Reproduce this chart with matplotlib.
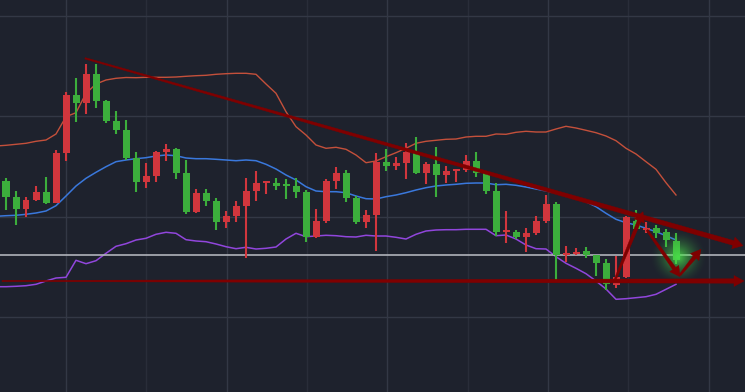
import numpy as np
import matplotlib
matplotlib.use("Agg")
import matplotlib.pyplot as plt
from matplotlib.patches import Polygon
from matplotlib.transforms import IdentityTransform

# Candles (red = up, green = down)
opens = [211, 195.3, 183, 192, 200, 188.7, 239, 297, 289.3, 318, 291.3, 271, 262, 233.7, 210.3, 216.3,
         240, 243.3, 219, 180, 199, 191, 170, 176, 186.3, 201.3, 209, 209, 208, 206, 200, 155.3,
         171, 211, 219, 194.3, 170, 177.3, 230, 226, 229, 240, 219, 228, 217, 221, 222, 231,
         219, 201, 160, 160, 155, 159, 171, 188, 137, 138, 141, 137, 129, 107, 115, 171,
         162, 164, 160, 151]
closes = [195.3, 183.3, 192, 200, 188.7, 239, 297, 289.3, 318, 291.3, 271, 262, 234.3, 210.3, 216, 240,
          243.3, 219.3, 180, 199, 191.3, 170, 176, 186, 201, 209, 211, 206, 206, 200, 155.3, 171,
          211, 219, 194.3, 170, 177.3, 230, 226, 229, 240, 219, 228, 217, 221, 223, 231, 219,
          201, 160, 162, 155, 159, 171, 188, 137, 139, 140, 137, 129, 108, 115, 175, 163,
          164, 159, 152, 132]
highs = [214, 201, 195.3, 206, 215, 242, 300, 314, 328, 328, 292, 281, 272, 240, 229, 241.3,
         248, 244, 232, 203, 203, 194, 181, 191, 214, 221, 211, 214, 213, 214, 202, 183,
         213, 225, 222, 196, 182, 239, 243, 235, 249, 255, 230, 245, 226, 223, 237, 240,
         219, 209, 181, 162, 164, 176, 197, 190, 146, 144, 145, 137, 133, 136, 176, 182,
         170, 167, 163, 159]
lows = [182, 167.3, 175.3, 191, 188, 188.7, 231.3, 270.3, 278, 284.3, 269.3, 258.3, 232, 200.3, 204.3, 210.3,
        231.3, 213.3, 178, 179, 186.3, 162.3, 164.3, 170, 134.3, 191.3, 198, 202.3, 193.3, 194.3, 150.3, 154.3,
        169, 203, 190.3, 168, 164.3, 141.3, 221, 222, 213, 218, 208, 195, 209, 210, 220, 215,
        198, 156, 149, 153, 140, 157, 169, 112, 130, 137, 134, 116, 102, 104, 114, 162,
        159, 154, 145, 128]

# Bollinger bands, first value belongs to the bar before the first candle
band_upper = [246, 246.7, 247.7, 248.7, 250.7, 252, 258, 275.3, 279.3, 298.7, 308, 312, 313.7, 314.5,
              314.3, 314.7, 314.7, 314.7, 315, 315.7, 316.3, 316.7, 317.7, 318.3, 318.7, 318.7, 317.7,
              308, 298.7, 280.3, 265.3, 257, 247, 243.7, 244.7, 242.7, 237, 229.3, 231, 235.3, 239.3,
              243.7, 248.7, 250.7, 251.7, 252.7, 253, 255, 255.7, 255.7, 258, 257.7, 259.7, 260.7,
              260, 260, 263, 265.7, 264, 261.7, 259.3, 256, 251.3, 243.7, 238, 230.3, 222.7, 209.3, 197]
band_mid = [175.7, 176.3, 176.7, 177.7, 179, 181, 186.3, 196, 206, 213.7, 219.7, 225.3, 230.3, 232,
            233.3, 234.3, 236, 237, 236.3, 234, 233.3, 233.3, 232.7, 232, 231.3, 232, 231.3, 227.7,
            223, 217, 212, 205.3, 201, 200.3, 200.3, 199.3, 196, 193.3, 193, 195.3, 197, 199.3,
            202, 204.3, 206, 207, 207.7, 208.7, 209, 209, 207.3, 207.7, 206.7, 205, 203, 201,
            199.3, 197.3, 193.7, 190.3, 185.3, 178.7, 172.7, 169.3, 167, 163.7, 160.3, 156.3, 152]
band_lower = [105.3, 105.3, 105.7, 106.3, 107.7, 111, 114, 114.7, 131.7, 128.3, 131.3, 138.7, 145.7, 148.3,
              152, 153.7, 157.7, 159.7, 158.7, 152.3, 151, 150.3, 148, 145.3, 143.3, 144.7, 143, 143.7,
              145, 153, 158.7, 155.3, 156, 156.7, 156.3, 155.3, 155, 156.7, 156, 156, 154.7, 153,
              157.7, 161, 162, 162.3, 162.3, 162.7, 162.7, 162.7, 156.3, 157, 153, 147, 143.3, 143,
              135.3, 128.7, 123.7, 118.3, 111, 103, 92.7, 93.3, 94.3, 95.3, 97.7, 102.7, 107.7]

# Drawn levels and trendlines (bar index, price)
ref_level = 137
support = [(-0.4, 111), (73.8, 111)]
trend = [(7.9, 333.7), (73.7, 146.3)]
zigzag = [[(60.9, 112), (63.7, 180.3)],
          [(64.1, 162), (67.4, 115.3)],
          [(67.4, 117), (69.5, 142.7)]]
glow_at = (67.2, 135)

UP = '#d1363d'
DOWN = '#3cae3c'
BG = '#1e222d'
ARROW = '#7f0000'

fig = plt.figure(figsize=(7.45, 3.92), dpi=100, facecolor=BG)
ax = fig.add_axes([0, 0, 1, 1])
ax.set_facecolor(BG)
ax.set_xlim(-0.6, 73.9)
ax.set_ylim(0, 392)

# grid
ax.set_xticks(6 + 16.07 * np.arange(5))
ax.set_xticks(14.03 + 16.07 * np.arange(4), minor=True)
ax.set_yticks([75, 175.3, 275.6, 376])
ax.grid(True, which='major', color='#333845', linewidth=1.0)
ax.grid(True, which='minor', axis='x', color='#292d39', linewidth=1.0)
ax.tick_params(which='both', length=0, labelbottom=False, labelleft=False)
for s in ax.spines.values():
    s.set_visible(False)
ax.set_axisbelow(True)

# bands
bx = np.arange(-1, len(opens))
ax.plot(bx, band_upper, color='#c4503b', lw=1.0, zorder=2)
ax.plot(bx, band_mid, color='#3a78dc', lw=1.1, zorder=2)
ax.plot(bx, band_lower, color='#9146dc', lw=1.1, zorder=2)

ax.axhline(ref_level, color='#b0b3ba', lw=1.2, zorder=2)

# candles
x = np.arange(len(opens))
o = np.array(opens)
c = np.array(closes)
cols = [UP if cc >= oo else DOWN for oo, cc in zip(o, c)]
ax.vlines(x, lows, highs, colors=cols, lw=1.5, zorder=3)
h = c - o
h = np.where(np.abs(h) < 1.5, np.sign(h + 1e-9) * 1.5, h)
ax.bar(x, h, bottom=o, width=0.7, color=cols, zorder=3, linewidth=0)

# glow on the last bar
gx, gy = np.meshgrid(np.linspace(-1, 1, 150), np.linspace(-1, 1, 150))
r = np.sqrt(gx ** 2 + gy ** 2)
img = np.zeros((150, 150, 4))
img[..., 0] = 0.30
img[..., 1] = 0.90
img[..., 2] = 0.30
img[..., 3] = 0.85 * np.clip(1 - r, 0, 1) ** 1.8
ax.imshow(img, extent=(glow_at[0] - 2.9, glow_at[0] + 2.9, glow_at[1] - 29, glow_at[1] + 29),
          aspect='auto', zorder=4, interpolation='bilinear')
ax.set_xlim(-0.6, 73.9)
ax.set_ylim(0, 392)


# tapered arrow, widths in pixels
def arrow(p0, p1, w0=1.0, w1=4.6, hl=10, hw=12):
    a = ax.transData.transform(p0)
    b = ax.transData.transform(p1)
    d = b - a
    u = d / np.hypot(*d)
    n = np.array([-u[1], u[0]])
    base = b - u * hl
    pts = [a + n * w0 / 2, base + n * w1 / 2, base + n * hw / 2, b,
           base - n * hw / 2, base - n * w1 / 2, a - n * w0 / 2]
    ax.add_patch(Polygon(pts, closed=True, transform=IdentityTransform(),
                         facecolor=ARROW, edgecolor=ARROW, lw=0.3, zorder=5))


arrow(*support, w0=1.2, w1=4.4, hl=10, hw=11)
arrow(*trend, w0=1.5, w1=4.8, hl=10, hw=12)
for seg in zigzag:
    arrow(*seg, w0=2.0, w1=3.8, hl=10, hw=11)

plt.savefig('out.png', dpi=100, facecolor=BG)
